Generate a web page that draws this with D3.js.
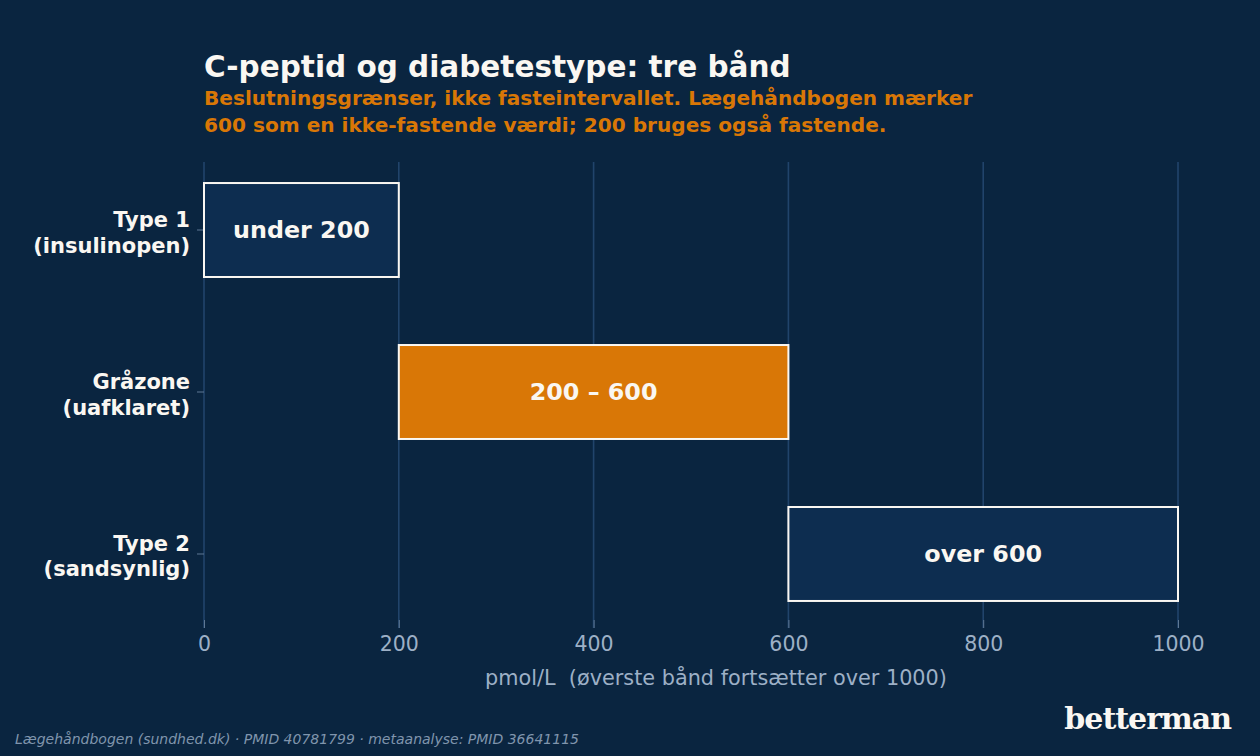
<!DOCTYPE html>
<html>
<head>
<meta charset="utf-8">
<script src="https://cdn.jsdelivr.net/npm/d3@7"></script>
<style>
  html, body { margin: 0; padding: 0; background: #0a2540; }
  svg { display: block; }
  svg text { font-family: 'DejaVu Sans'; }
</style>
</head>
<body>
<div id="chart"></div>
<script>
// Data
const bandKeys = ['type1', 'gray', 'type2'];
const bandLabels = [['Type 1', '(insulinopen)'], ['Gråzone', '(uafklaret)'], ['Type 2', '(sandsynlig)']];
const bandStart = [0, 200, 600];
const bandEnd = [200, 600, 1000];
const bandText = ['under 200', '200 – 600', 'over 600'];
const xTicks = [0, 200, 400, 600, 800, 1000];

const W = 1260, H = 756;
const BG = '#0a2540';
const BAR = '#0d2d50';
const ORANGE = '#d97706';
const GRID = '#21446b';
const MUTED = '#9db0c6';
const WHITE = '#faf7f2';
const FONT = 'DejaVu Sans';

const svg = d3.select('#chart').append('svg')
  .attr('width', W).attr('height', H);

svg.append('rect').attr('width', W).attr('height', H).attr('fill', BG);

const x = d3.scaleLinear().domain([0, 1000]).range([204, 1178]);
const y = d3.scaleBand().domain(bandKeys).range([115, 669]).padding(0.42);

const plotTop = 162, plotBottom = 628;

// Grid lines
svg.append('g').selectAll('line').data(xTicks).join('line')
  .attr('x1', d => x(d)).attr('x2', d => x(d))
  .attr('y1', plotTop).attr('y2', plotBottom)
  .attr('stroke', GRID).attr('stroke-width', 1.6);

// X axis
const xAxis = svg.append('g')
  .attr('transform', `translate(0,${plotBottom - 8})`)
  .call(d3.axisBottom(x).tickValues(xTicks).tickSize(8).tickPadding(8).tickFormat(d3.format('d')));
xAxis.attr('font-family', FONT);
xAxis.select('.domain').remove();
xAxis.selectAll('line').attr('stroke', '#5f7894');
xAxis.selectAll('text').attr('fill', MUTED).style('font-family', FONT).style('font-size', '20.5px');

// Y axis ticks
const yAxis = svg.append('g')
  .attr('transform', 'translate(204,0)')
  .call(d3.axisLeft(y).tickSize(7).tickFormat(''));
yAxis.select('.domain').remove();
yAxis.selectAll('line').attr('stroke', '#5f7894');

// Y labels
const yl = svg.append('g').selectAll('text').data(bandKeys).join('text')
  .attr('x', 190)
  .attr('y', d => y(d) + y.bandwidth() / 2)
  .attr('text-anchor', 'end')
  .attr('fill', WHITE)
  .style('font-family', FONT)
  .style('font-size', '21px').style('font-weight', 'bold');
yl.each(function(d, i) {
  const t = d3.select(this);
  t.append('tspan').attr('x', 190).attr('dy', -3).text(bandLabels[i][0]);
  t.append('tspan').attr('x', 190).attr('dy', 25.5).text(bandLabels[i][1]);
});

// Bars
svg.append('g').selectAll('rect').data(bandKeys).join('rect')
  .attr('x', (d, i) => x(bandStart[i]))
  .attr('y', d => y(d))
  .attr('width', (d, i) => x(bandEnd[i]) - x(bandStart[i]))
  .attr('height', y.bandwidth())
  .attr('fill', d => d === 'gray' ? ORANGE : BAR)
  .attr('stroke', WHITE).attr('stroke-width', 2);

svg.append('g').selectAll('text').data(bandKeys).join('text')
  .attr('x', (d, i) => (x(bandStart[i]) + x(bandEnd[i])) / 2)
  .attr('y', d => y(d) + y.bandwidth() / 2)
  .attr('dy', '0.35em')
  .attr('text-anchor', 'middle')
  .attr('fill', WHITE)
  .style('font-family', FONT)
  .style('font-size', '23.8px').style('font-weight', 'bold')
  .text((d, i) => bandText[i]);

// Axis title (centred where the reference has it)
svg.append('text')
  .attr('x', 716).attr('y', 685)
  .attr('text-anchor', 'middle')
  .attr('fill', MUTED)
  .style('font-family', FONT)
  .style('font-size', '20.8px')
  .style('white-space', 'pre')
  .text('pmol/L  (øverste bånd fortsætter over 1000)');

// Title and subtitle
svg.append('text')
  .attr('x', 204).attr('y', 77)
  .attr('fill', WHITE)
  .style('font-family', FONT)
  .style('font-size', '29.5px').style('font-weight', 'bold')
  .text('C-peptid og diabetestype: tre bånd');

const sub = svg.append('text')
  .attr('x', 204).attr('y', 105)
  .attr('fill', ORANGE)
  .style('font-family', FONT)
  .style('font-size', '20.1px').style('font-weight', 'bold');
sub.append('tspan').attr('x', 204).text('Beslutningsgrænser, ikke fasteintervallet. Lægehåndbogen mærker');
sub.append('tspan').attr('x', 204).attr('dy', 27).text('600 som en ikke-fastende værdi; 200 bruges også fastende.');

// Footer
svg.append('text')
  .attr('x', 15).attr('y', 744)
  .attr('fill', '#8095ad')
  .style('font-family', FONT)
  .style('font-size', '14px').style('font-style', 'italic')
  .text('Lægehåndbogen (sundhed.dk) · PMID 40781799 · metaanalyse: PMID 36641115');

svg.append('text')
  .attr('x', 1231).attr('y', 729)
  .attr('text-anchor', 'end')
  .attr('fill', WHITE)
  .style('font-family', 'DejaVu Serif')
  .style('font-size', '30px').style('font-weight', 'bold')
  .style('letter-spacing', '-1px')
  .text('betterman');
</script>
</body>
</html>
